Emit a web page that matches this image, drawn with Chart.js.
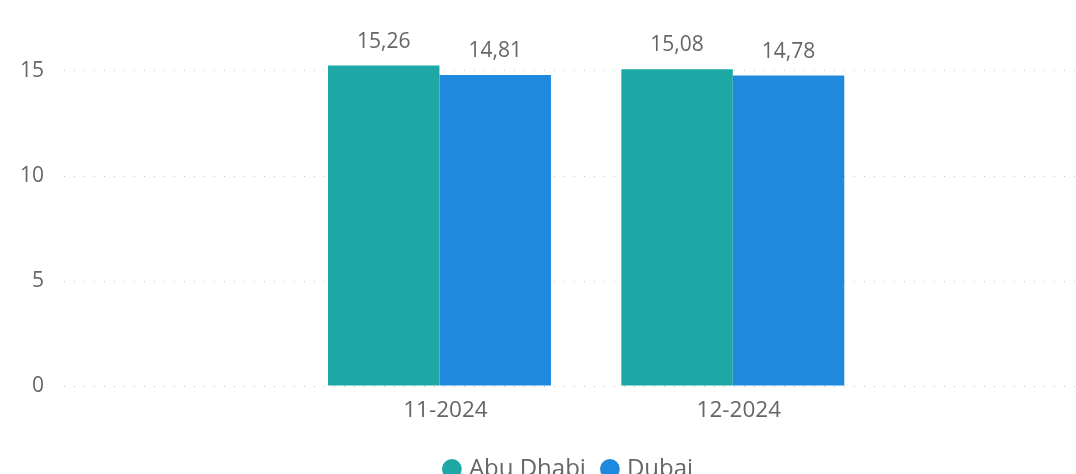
<!DOCTYPE html>
<html>
<head>
<meta charset="utf-8">
<title>Abu Dhabi vs Dubai</title>
<script src="https://cdn.jsdelivr.net/npm/chart.js@4.4.1/dist/chart.umd.min.js"></script>
<style>
    html, body {
        margin: 0;
        padding: 0;
        background: #ffffff;
        overflow: hidden;
    }
    .chart-wrap {
        position: relative;
        width: 1076px;
        height: 491px;
    }
</style>
</head>
<body>
<div class="chart-wrap">
    <canvas id="priceChart"></canvas>
</div>
<script>
const categories = ["11-2024", "12-2024"];
const abuDhabiValues = [15.26, 15.08];
const dubaiValues = [14.81, 14.78];
const yTicks = [0, 5, 10, 15];

const textColor = "#666666";
const fontFamily = "'Open Sans', 'Noto Sans', sans-serif";

// bars sit on a linear x axis so the dotted grid can run the full width
const toPoints = (values) => values.map((value, index) => ({ x: index + 1, y: value }));

const valueLabels = {
    id: "valueLabels",
    afterDatasetsDraw(chart) {
        const { ctx } = chart;
        ctx.save();
        ctx.font = `21px ${fontFamily}`;
        ctx.fillStyle = textColor;
        ctx.textAlign = "center";
        ctx.textBaseline = "alphabetic";
        chart.data.datasets.forEach((dataset, datasetIndex) => {
            const meta = chart.getDatasetMeta(datasetIndex);
            meta.data.forEach((bar, index) => {
                const text = dataset.data[index].y.toFixed(2).replace(".", ",");
                ctx.fillText(text, bar.x, bar.y - 18);
            });
        });
        ctx.restore();
    },
};

new Chart(document.getElementById("priceChart"), {
    type: "bar",
    data: {
        datasets: [
            {
                label: "Abu Dhabi",
                data: toPoints(abuDhabiValues),
                backgroundColor: "#1DA8A5",
                borderWidth: 0,
            },
            {
                label: "Dubai",
                data: toPoints(dubaiValues),
                backgroundColor: "#1E89DD",
                borderWidth: 0,
            },
        ],
    },
    options: {
        responsive: true,
        maintainAspectRatio: false,
        animation: false,
        categoryPercentage: 0.76,
        barPercentage: 1,
        layout: {
            padding: { top: 8, left: 0, right: 0, bottom: 0 },
        },
        scales: {
            x: {
                type: "linear",
                offset: false,
                min: -0.28,
                max: 3.17,
                grid: { display: false, drawTicks: false },
                border: { display: false },
                afterBuildTicks: (scale) => {
                    scale.ticks = categories.map((_, index) => ({ value: index + 1 }));
                },
                afterFit: (scale) => {
                    scale.height = 52;
                },
                ticks: {
                    padding: 11,
                    labelOffset: 6,
                    color: textColor,
                    font: { family: fontFamily, size: 22.5 },
                    maxRotation: 0,
                    callback: (value) => categories[value - 1] || "",
                },
            },
            y: {
                min: 0,
                max: 18,
                afterBuildTicks: (scale) => {
                    scale.ticks = yTicks.map((value) => ({ value }));
                },
                afterFit: (scale) => {
                    scale.width = 64;
                    scale.paddingTop = 0;
                    scale.paddingBottom = 0;
                },
                grid: {
                    color: "#c8c6c4",
                    lineWidth: 1,
                    drawTicks: false,
                },
                border: { display: false, dash: [1, 9] },
                ticks: {
                    padding: 20,
                    color: textColor,
                    font: { family: fontFamily, size: 21 },
                },
            },
        },
        plugins: {
            legend: {
                position: "bottom",
                fullSize: false,
                labels: {
                    usePointStyle: true,
                    pointStyle: "circle",
                    boxWidth: 10,
                    boxHeight: 14,
                    padding: 19,
                    color: textColor,
                    font: { family: fontFamily, size: 24 },
                },
            },
            tooltip: { enabled: false },
        },
    },
    plugins: [valueLabels],
});
</script>
</body>
</html>
